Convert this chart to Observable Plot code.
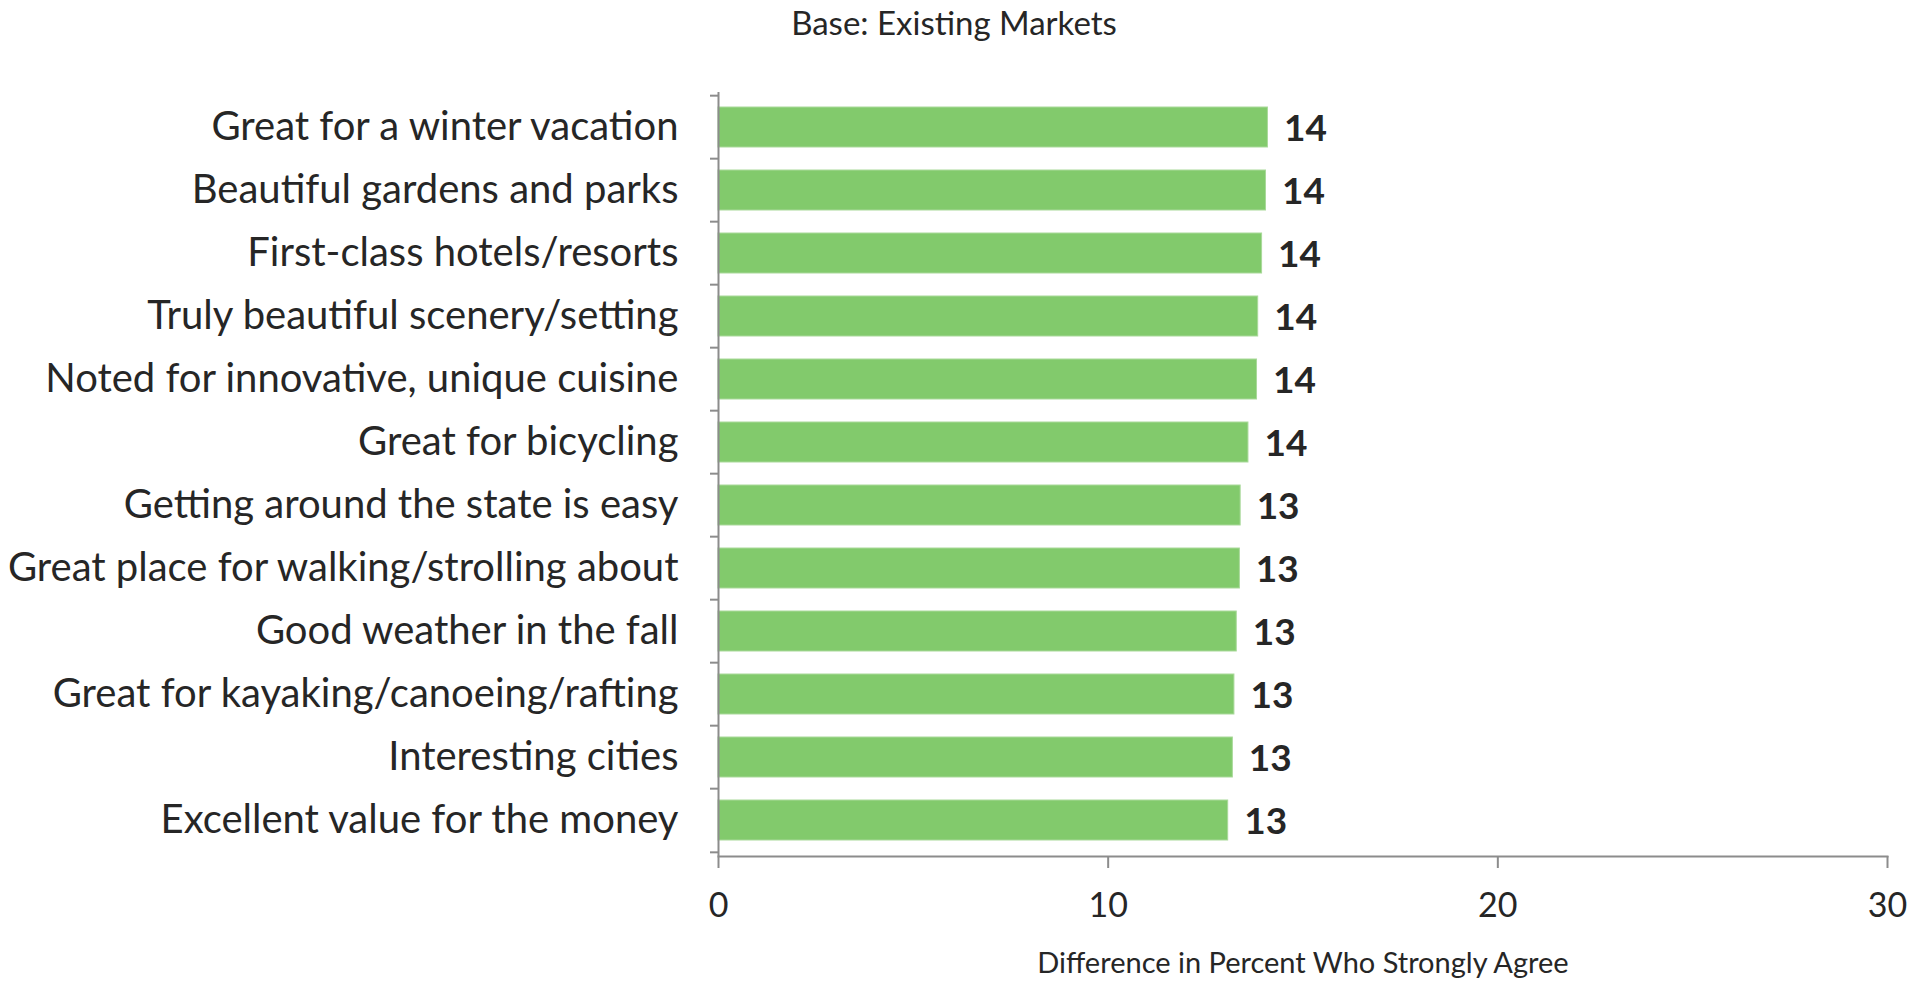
<!DOCTYPE html>
<html>
<head>
<meta charset="utf-8">
<script src="https://cdn.jsdelivr.net/npm/d3@7"></script>
<script src="https://cdn.jsdelivr.net/npm/@observablehq/plot@0.6"></script>
<style>
  html, body { margin: 0; padding: 0; background: #fff; }
  body { width: 1926px; height: 981px; overflow: hidden; font-family: Lato, "Open Sans", sans-serif; }
  #title { height: 40px; line-height: 44px; width: 1908px; text-align: center; font-size: 33px; color: #262626; }
  svg text { font-family: Lato, "Open Sans", sans-serif; }
</style>
</head>
<body>
<div id="title">Base: Existing Markets</div>
<div id="chart"></div>
<script>
const categories = [
  "Great for a winter vacation",
  "Beautiful gardens and parks",
  "First-class hotels/resorts",
  "Truly beautiful scenery/setting",
  "Noted for innovative, unique cuisine",
  "Great for bicycling",
  "Getting around the state is easy",
  "Great place for walking/strolling about",
  "Good weather in the fall",
  "Great for kayaking/canoeing/rafting",
  "Interesting cities",
  "Excellent value for the money"
];
const values = [14.1, 14.05, 13.95, 13.85, 13.82, 13.6, 13.4, 13.38, 13.3, 13.24, 13.2, 13.08];
const xTicks = [0, 10, 20, 30];
const xTitle = "Difference in Percent Who Strongly Agree";

const data = categories.map((c, i) => ({category: c, value: values[i]}));

const W = 1926, H = 941;
const mTop = 52, mBottom = 125, mLeft = 718, mRight = 39;
const step = (H - mTop - mBottom) / categories.length;
const grey = "#8c8c8c";

const chart = Plot.plot({
  width: W,
  height: H,
  marginTop: mTop,
  marginBottom: mBottom,
  marginLeft: mLeft,
  marginRight: mRight,
  style: {background: "#fff", color: "#262626", overflow: "visible"},
  x: {domain: [0, 30], label: null},
  y: {domain: categories, paddingInner: 0.36, paddingOuter: 0.18, label: null},
  marks: [
    Plot.barX(data, {x: "value", y: "category", fill: "#82ca6c", stroke: "#a9d99a", strokeWidth: 1}),
    Plot.ruleX([0], {stroke: grey, strokeWidth: 2}),
    Plot.frame({anchor: "bottom", stroke: grey, strokeWidth: 2}),
    // y tick marks at category boundaries
    Plot.axisY({tickSize: 8, text: null, stroke: grey, strokeWidth: 2, dy: -step / 2}),
    Plot.axisY([categories[categories.length - 1]], {tickSize: 8, text: null, stroke: grey, strokeWidth: 2, dy: step / 2}),
    // category labels
    Plot.axisY({tickSize: 0, tickPadding: 40, fontSize: 40, fill: "#262626", label: null}),
    // x axis
    Plot.axisX({ticks: xTicks, tickSize: 12, tickPadding: 24, fontSize: 34, stroke: grey, strokeWidth: 2, fill: "#262626", label: null, tickFormat: d3.format("d")}),
    Plot.text([xTitle], {frameAnchor: "bottom", dy: 116, fontSize: 29, fill: "#262626"}),
    // value labels
    Plot.text(data, {x: "value", y: "category", text: d => d3.format(".0f")(d.value), textAnchor: "start", dx: 16, dy: 2, fontSize: 37, fontWeight: "bold", fill: "#262626"})
  ]
});
document.getElementById("chart").appendChild(chart);
</script>
</body>
</html>
